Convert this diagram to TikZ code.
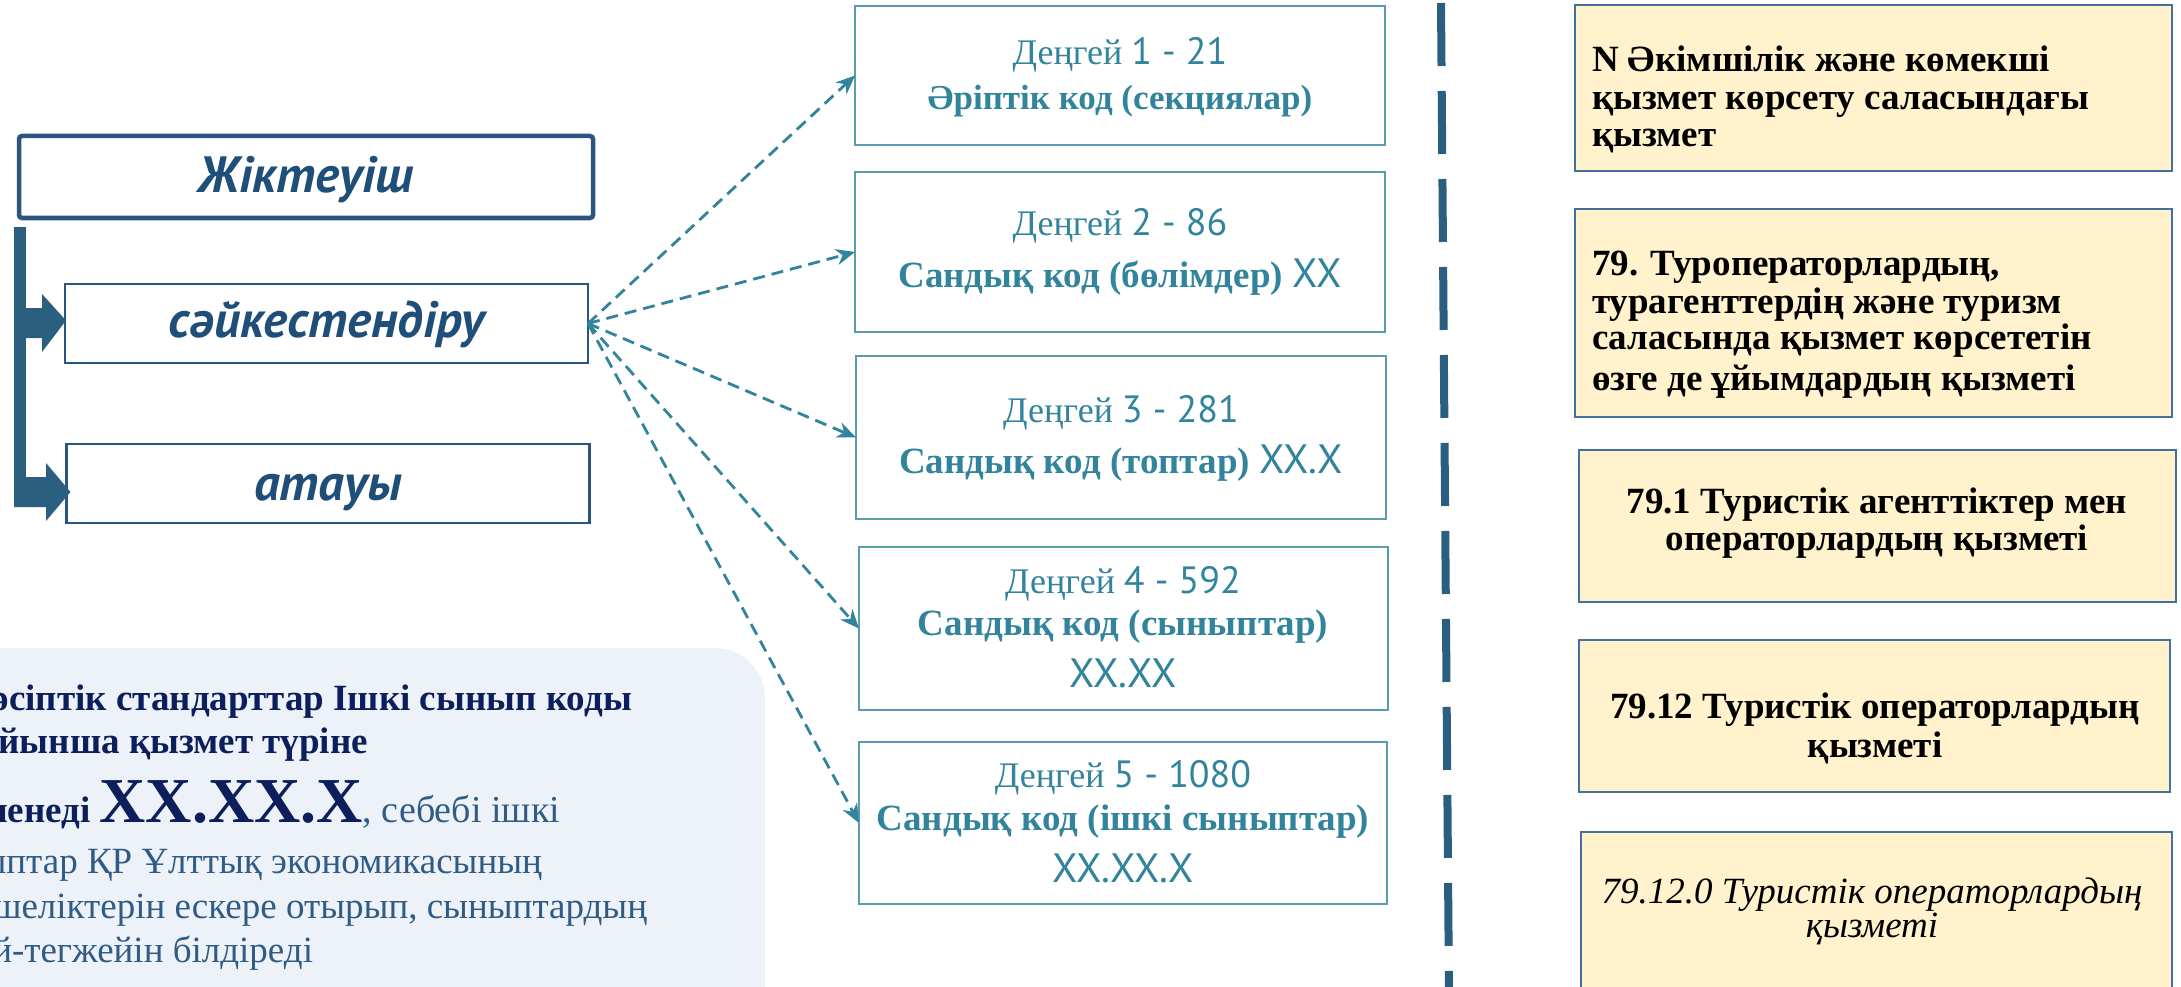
\documentclass[tikz,border=0pt]{standalone}
\usepackage{fontspec}
\setmainfont{Liberation Serif}
\newfontfamily\ptsans{PT Sans}
\usetikzlibrary{arrows.meta}
\definecolor{navytxt}{HTML}{0C1E5B}
\definecolor{steeltxt}{HTML}{2F5B85}
\definecolor{barblue}{HTML}{2B5F80}
\definecolor{lbltxt}{HTML}{1F4E79}
\definecolor{boxblue}{HTML}{2A5580}
\definecolor{tealtxt}{HTML}{31849B}
\definecolor{tealbd}{HTML}{5A9DAE}
\definecolor{cream}{HTML}{FFF2CC}
\definecolor{creambd}{HTML}{41719C}
\definecolor{panelbg}{HTML}{EDF2F8}
\newcommand\sansnum[1]{{\ptsans\mdseries\fontsize{38}{40}\selectfont #1}}
\newcommand\sanscode[1]{{\ptsans\mdseries\fontsize{41}{44}\selectfont #1}}
\tikzset{
  lbox/.style={draw=boxblue, line width=2.6pt, minimum width=523pt, minimum height=79pt,
    font=\ptsans\bfseries\itshape\fontsize{51}{56}\selectfont, text=lbltxt},
  mbox/.style={draw=tealbd, line width=2pt, minimum width=530pt},
  rbox/.style={draw=creambd, fill=cream, line width=2.2pt, minimum width=597pt},
  mtxt/.style={anchor=base, text=tealtxt, font=\fontsize{36}{40}\selectfont},
  mbold/.style={anchor=base, text=tealtxt, font=\bfseries\fontsize{37}{40}\selectfont},
  rtxt/.style={text=black, font=\bfseries\fontsize{37}{40}\selectfont},
  rital/.style={anchor=base, text=black, font=\itshape\fontsize{37}{38}\selectfont},
  pbold/.style={anchor=base east, text=navytxt, font=\bfseries\fontsize{37}{40}\selectfont},
  preg/.style={anchor=base east, text=steeltxt, font=\fontsize{37}{40}\selectfont},
  link/.style={draw=tealtxt, line width=2.8pt, dash pattern=on 12pt off 7pt,
    -{Stealth[length=19pt,width=16pt]}},
  vdash/.style={draw=barblue, line width=8pt, dash pattern=on 63pt off 25pt},
}
\begin{document}
\begin{tikzpicture}[x=1pt,y=-1pt, every node/.style={inner sep=0pt, outer sep=0pt}]
\clip (0,0) rectangle (2181,987);
\fill[white] (0,0) rectangle (2181,987);

% ---------- left panel ----------
\fill[panelbg, rounded corners=50pt] (-120,648) rectangle (765,1120);
\node[pbold] (p1) at (632,710) {Кәсіптік стандарттар Ішкі сынып коды};
\node[pbold] (p2) at (368,753) {бойынша қызмет түріне};
\node[pbold] (p3) at (560,822) {белгіленеді {\fontsize{64}{64}\selectfont XX.XX.X}{\mdseries\fontsize{38}{40}\selectfont\color{steeltxt}, себебі ішкі}};
\node[preg] (p4) at (542,873) {сыныптар ҚР Ұлттық экономикасының};
\node[preg] (p5) at (647,918) {ерекшеліктерін ескере отырып, сыныптардың};
\node[preg] (p6) at (313,962) {егжей-тегжейін білдіреді};

% ---------- left classifier ----------
\node[lbox, line width=4.5pt, minimum width=574pt, minimum height=82pt, rounded corners=3pt,
      text height=40pt, text depth=8pt] (j) at (306,177) {Жіктеуіш};
\node[lbox, text height=38pt, text depth=10pt] (s) at (326.5,323.5) {сәйкестендіру};
\node[lbox, text height=40pt, text depth=6pt] (a) at (328,483.5) {атауы};

\coordinate (bartop) at (14,227);
\fill[barblue] (bartop) rectangle (26,507);
\fill[barblue] (26,308) -- (42,308) -- (42,294) -- ([shift={(1,-3)}]s.west) -- (42,352) -- (42,338) -- (26,338) -- cycle;
\fill[barblue] (14,477) -- (46,477) -- (46,463) -- ([shift={(4,8.5)}]a.west) -- (46,521) -- (46,507) -- (14,507) -- cycle;

% ---------- middle levels ----------
\node[mbox, minimum height=139pt] (m1) at (1120,75.5) {};
\node[mbox, minimum height=160pt] (m2) at (1120,252) {};
\node[mbox, minimum height=163pt] (m3) at (1121,437.5) {};
\node[mbox, minimum height=163pt, minimum width=529pt] (m4) at (1123.5,628.5) {};
\node[mbox, minimum height=162pt, minimum width=528pt] (m5) at (1123,823) {};

\node[mtxt] (m1a) at (1120,65) {Деңгей \sansnum{1 - 21}};
\node[mbold, font=\bfseries\fontsize{35}{40}\selectfont] (m1b) at (1120,110) {Әріптік код (секциялар)};
\node[mtxt] (m2a) at (1120,235) {Деңгей \sansnum{2 - 86}};
\node[mbold] (m2b) at (1120,287) {Сандық код (бөлімдер) \sanscode{XX}};
\node[mtxt] (m3a) at (1121,422) {Деңгей \sansnum{3 - 281}};
\node[mbold] (m3b) at (1121,473) {Сандық код (топтар) \sanscode{XX.X}};
\node[mtxt] (m4a) at (1123,593) {Деңгей \sansnum{4 - 592}};
\node[mbold] (m4b) at (1123,635) {Сандық код (сыныптар)};
\node[mtxt] (m4c) at (1123,687) {\sanscode{XX.XX}};
\node[mtxt] (m5a) at (1123,787) {Деңгей \sansnum{5 - 1080}};
\node[mbold] (m5b) at (1123,830) {Сандық код (ішкі сыныптар)};
\node[mtxt] (m5c) at (1123,882) {\sanscode{XX.XX.X}};

\foreach \t in {m1,m2,m3,m4,m5}
  \draw[link] (s.east) -- (\t.west);

% ---------- divider ----------
\coordinate (vtop) at (1441,3);
\coordinate (vbot) at (1449,995);
\draw[vdash] (vtop) -- (vbot);

% ---------- right boxes ----------
\node[rbox, minimum height=166pt] (r1) at (1873.5,88) {};
\node[rbox, minimum height=208pt] (r2) at (1873.5,313) {};
\node[rbox, minimum height=152pt] (r3) at (1877.5,526) {};
\node[rbox, minimum height=152pt, minimum width=591pt] (r4) at (1874.5,716) {};
\node[rbox, minimum height=180pt, minimum width=591pt] (r5) at (1876.5,922) {};

\node[rtxt, anchor=base west] (r1a) at (1592,72) {N Әкімшілік және көмекші};
\node[rtxt, anchor=base west] (r1b) at (1592,110) {қызмет көрсету саласындағы};
\node[rtxt, anchor=base west] (r1c) at (1592,147) {қызмет};

\node[rtxt, anchor=base west] (r2a) at (1592,275) {79. Туроператорлардың,};
\node[rtxt, anchor=base west] (r2b) at (1592,313) {турагенттердің және туризм};
\node[rtxt, anchor=base west] (r2c) at (1592,349) {саласында қызмет көрсететін};
\node[rtxt, anchor=base west] (r2d) at (1592,390) {өзге де ұйымдардың қызметі};

\node[rtxt, anchor=base] (r3a) at (1877,513) {79.1 Туристік агенттіктер мен};
\node[rtxt, anchor=base] (r3b) at (1877,550) {операторлардың қызметі};

\node[rtxt, anchor=base] (r4a) at (1875,718) {79.12 Туристік операторлардың};
\node[rtxt, anchor=base] (r4b) at (1875,757) {қызметі};

\node[rital] (r5a) at (1872,903) {79.12.0 Туристік операторлардың};
\node[rital] (r5b) at (1872,937) {қызметі};
\end{tikzpicture}
\end{document}
